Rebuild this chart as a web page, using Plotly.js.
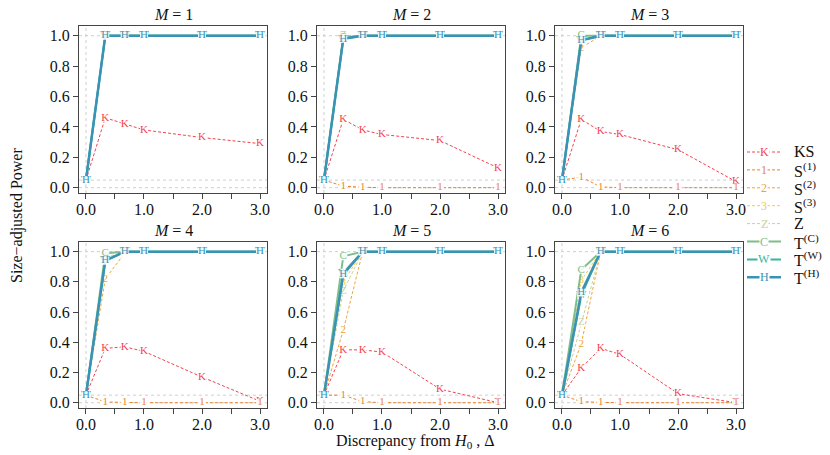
<!DOCTYPE html>
<html><head><meta charset="utf-8">
<script src="https://cdn.plot.ly/plotly-3.0.1.min.js"></script>
<style>html,body{margin:0;padding:0;background:#fff}#c{width:830px;height:455px}</style>
</head><body><div id="c"></div>
<script>
// Discrepancy from H0 (Delta)
const deltas = [0, 0.333, 0.667, 1, 2, 3];
const panelM = [1, 2, 3, 4, 5, 6];
const statNames = ["KS", "S<sup>(1)</sup>", "S<sup>(2)</sup>", "S<sup>(3)</sup>", "Z", "T<sup>(C)</sup>", "T<sup>(W)</sup>", "T<sup>(H)</sup>"];
const statLetters = ["K", "1", "2", "3", "Z", "C", "W", "H"];
// Size-adjusted power, one row per M = 1..6
const powerKS = [
  [0.05, 0.46, 0.42, 0.38, 0.33, 0.29],
  [0.05, 0.45, 0.38, 0.35, 0.31, 0.13],
  [0.05, 0.45, 0.37, 0.35, 0.25, 0.04],
  [0.05, 0.36, 0.37, 0.34, 0.17, 0.01],
  [0.05, 0.35, 0.35, 0.335, 0.09, 0.0],
  [0.05, 0.23, 0.36, 0.32, 0.06, 0.0]
];
const powerS1 = [
  [0.05, 1, 1, 1, 1, 1],
  [0.05, 0.01, 0.003, 0, 0, 0],
  [0.05, 0.07, 0.005, 0, 0, 0],
  [0.05, 0.005, 0.002, 0, 0, 0],
  [0.05, 0.05, 0.007, 0, 0, 0],
  [0.05, 0.007, 0.002, 0, 0, 0]
];
const powerS2 = [
  [0.05, 1, 1, 1, 1, 1],
  [0.05, 1, 1, 1, 1, 1],
  [0.05, 0.92, 1, 1, 1, 1],
  [0.05, 0.82, 0.99, 1, 1, 1],
  [0.05, 0.48, 1, 1, 1, 1],
  [0.05, 0.39, 1, 1, 1, 1]
];
const powerS3 = [
  [0.05, 1, 1, 1, 1, 1],
  [0.05, 1, 1, 1, 1, 1],
  [0.05, 0.98, 1, 1, 1, 1],
  [0.05, 0.96, 1, 1, 1, 1],
  [0.05, 0.80, 1, 1, 1, 1],
  [0.05, 0.81, 1, 1, 1, 1]
];
const powerZ = [
  [0.05, 1, 1, 1, 1, 1],
  [0.05, 1, 1, 1, 1, 1],
  [0.05, 0.97, 1, 1, 1, 1],
  [0.05, 0.95, 1, 1, 1, 1],
  [0.05, 0.74, 1, 1, 1, 1],
  [0.05, 0.53, 1, 1, 1, 1]
];
const powerTC = [
  [0.05, 1, 1, 1, 1, 1],
  [0.05, 0.99, 1, 1, 1, 1],
  [0.05, 1.0, 1, 1, 1, 1],
  [0.05, 0.99, 1, 1, 1, 1],
  [0.05, 0.97, 1, 1, 1, 1],
  [0.05, 0.88, 1, 1, 1, 1]
];
const powerTW = [
  [0.05, 1, 1, 1, 1, 1],
  [0.05, 0.98, 1, 1, 1, 1],
  [0.05, 0.97, 1, 1, 1, 1],
  [0.05, 0.94, 1, 1, 1, 1],
  [0.05, 0.86, 1, 1, 1, 1],
  [0.05, 0.71, 1, 1, 1, 1]
];
const powerTH = [
  [0.05, 1, 1, 1, 1, 1],
  [0.05, 0.98, 1, 1, 1, 1],
  [0.05, 0.97, 1, 1, 1, 1],
  [0.05, 0.94, 1, 1, 1, 1],
  [0.05, 0.85, 1, 1, 1, 1],
  [0.05, 0.73, 1, 1, 1, 1]
];
const xTickVals = [0, 1, 2, 3];
const xTickText = ["0.0", "1.0", "2.0", "3.0"];
const yTickVals = [0, 0.2, 0.4, 0.6, 0.8, 1.0];
const yTickText = ["0.0", "0.2", "0.4", "0.6", "0.8", "1.0"];
const refLevels = [0, 0.05, 1];

const allPower = [powerKS, powerS1, powerS2, powerS3, powerZ, powerTC, powerTW, powerTH];
const colors = ["#F2444F", "#E8842C", "#F0A535", "#F5C94A", "#C6D29A", "#7FBE8A", "#3CB3A0", "#3A93B6"];
const widths = [1, 1, 1, 1, 1, 2, 2, 2.5];
const dashes = ["3px,2px", "3px,2px", "3px,2px", "3px,2px", "3px,2px", "solid", "solid", "solid"];

const W = 830, H = 455;
const serif = "Liberation Serif, Times New Roman, serif";
const xDom = [[79, 267], [317, 505], [555, 743]];
const yDom = [[26, 193], [242, 408]];

const traces = [];
const layout = {
  width: W, height: H,
  margin: {l: 0, r: 0, t: 0, b: 0},
  paper_bgcolor: "#fff", plot_bgcolor: "#fff",
  showlegend: false,
  font: {family: serif, size: 16, color: "#111"},
  shapes: [], annotations: []
};

for (let p = 0; p < 6; p++) {
  const row = Math.floor(p / 3), col = p % 3;
  const sfx = p === 0 ? "" : String(p + 1);
  const xa = "xaxis" + sfx, ya = "yaxis" + sfx;
  const xr = "x" + sfx, yr = "y" + sfx;
  layout[xa] = {
    domain: [xDom[col][0] / W, xDom[col][1] / W],
    anchor: yr, range: [-0.12, 3.12],
    tickmode: "array", tickvals: xTickVals, ticktext: xTickText,
    ticks: "outside", ticklen: 5, tickwidth: 1, tickcolor: "#444",
    ticklabelstandoff: -3,
    minor: {dtick: 0.5, tick0: 0, ticks: "outside", ticklen: 5, tickwidth: 1, tickcolor: "#444", showgrid: false},
    showline: true, mirror: true, linecolor: "#444", linewidth: 1,
    showgrid: false, zeroline: false,
    tickfont: {family: serif, size: 16, color: "#111"}
  };
  layout[ya] = {
    domain: [1 - yDom[row][1] / H, 1 - yDom[row][0] / H],
    anchor: xr, range: [-0.035, 1.064],
    tickmode: "array", tickvals: yTickVals, ticktext: yTickText,
    ticks: "outside", ticklen: 5, tickwidth: 1, tickcolor: "#444",
    showline: true, mirror: true, linecolor: "#444", linewidth: 1,
    showgrid: false, zeroline: false,
    tickfont: {family: serif, size: 16, color: "#111"}
  };
  refLevels.forEach(v => layout.shapes.push({
    type: "line", xref: xr + " domain", yref: yr, x0: 0, x1: 1, y0: v, y1: v,
    line: {color: "#cfcfcf", width: 1, dash: "dot"}, layer: "below"
  }));
  layout.shapes.push({
    type: "line", xref: xr, yref: yr + " domain", x0: deltas[0], x1: deltas[0], y0: 0, y1: 1,
    line: {color: "#cfcfcf", width: 1, dash: "dot"}, layer: "below"
  });
  layout.annotations.push({
    xref: "paper", yref: "paper",
    x: (xDom[col][0] + xDom[col][1]) / 2 / W, y: 1 - (yDom[row][0] - 1) / H,
    xanchor: "center", yanchor: "bottom", showarrow: false,
    text: "<i>M</i> = " + panelM[p], font: {family: serif, size: 16, color: "#111"}
  });
  for (let s = 0; s < allPower.length; s++) {
    traces.push({
      type: "scatter", mode: "lines+markers+text",
      x: deltas, y: allPower[s][p], xaxis: xr, yaxis: yr,
      text: deltas.map(() => statLetters[s]),
      textposition: "middle center",
      textfont: {family: serif, size: 11, color: colors[s]},
      marker: {symbol: "square", size: 8, color: "rgba(255,255,255,0.9)", line: {width: 0}},
      line: {color: colors[s], width: widths[s], dash: dashes[s]},
      cliponaxis: false, hoverinfo: "skip"
    });
  }
}

// Legend
for (let s = 0; s < statNames.length; s++) {
  const yy = 1 - (152 + s * 17.9) / H;
  layout.shapes.push({
    type: "line", xref: "paper", yref: "paper",
    x0: 747 / W, x1: 781 / W, y0: yy, y1: yy,
    line: {color: colors[s], width: widths[s], dash: dashes[s]}
  });
  layout.annotations.push({
    xref: "paper", yref: "paper", x: 764 / W, y: yy, showarrow: false,
    xanchor: "center", yanchor: "middle", text: statLetters[s],
    bgcolor: "#fff", borderpad: 0,
    font: {family: serif, size: 12, color: colors[s]}
  });
  layout.annotations.push({
    xref: "paper", yref: "paper", x: 792 / W, y: yy, showarrow: false,
    xanchor: "left", yanchor: "middle", text: statNames[s],
    font: {family: serif, size: 16, color: "#111"}
  });
}

// Axis titles
layout.annotations.push({
  xref: "paper", yref: "paper", x: 415 / W, y: 1 - 441 / H, showarrow: false,
  xanchor: "center", yanchor: "middle",
  text: "Discrepancy from <i>H</i><sub>0</sub> , Δ",
  font: {family: serif, size: 16, color: "#111"}
});
layout.annotations.push({
  xref: "paper", yref: "paper", x: 17 / W, y: 1 - 216 / H, showarrow: false,
  xanchor: "center", yanchor: "middle", textangle: -90,
  text: "Size\u2212adjusted Power",
  font: {family: serif, size: 16, color: "#111"}
});

Plotly.newPlot("c", traces, layout, {staticPlot: true, displayModeBar: false});
</script></body></html>
